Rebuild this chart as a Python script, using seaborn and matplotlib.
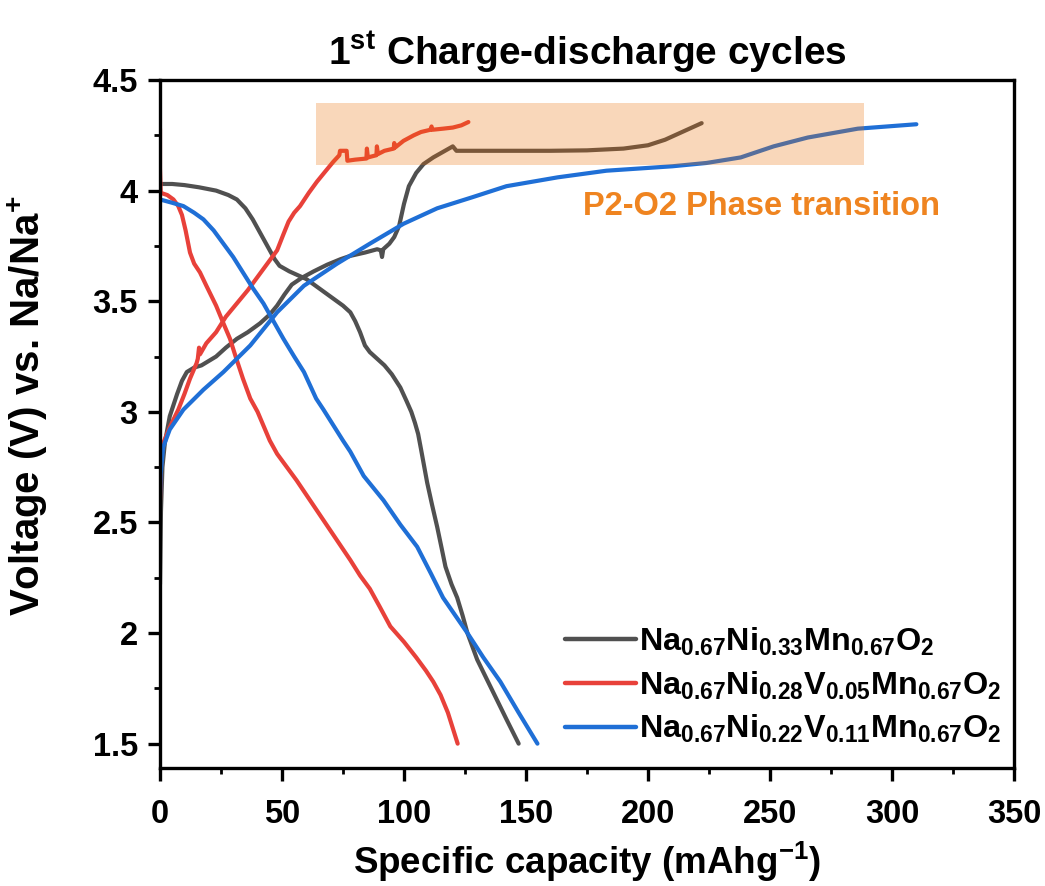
import numpy as np
import pandas as pd
import seaborn as sns
import matplotlib
matplotlib.use("Agg")
import matplotlib.pyplot as plt
from matplotlib.patches import Rectangle
from matplotlib.ticker import MultipleLocator, FuncFormatter

# ---- first-cycle galvanostatic data (capacity in mAh/g, voltage in V) ----
ni33_charge_cap = [0, 0.4, 1.0, 2, 4, 7, 9, 11, 14, 17, 20, 23, 27, 31.5, 36, 41, 45, 48, 51, 54,
                   58, 63, 68.5, 74, 78, 84, 89, 90.5, 91, 91.5, 94, 96, 98, 100, 102, 105, 108,
                   112, 116, 120, 121.5, 125, 140, 160, 175, 190, 200, 207, 213, 218, 222]
ni33_charge_v = [2.22, 2.55, 2.75, 2.86, 2.98, 3.08, 3.14, 3.18, 3.20, 3.21, 3.23, 3.25, 3.29, 3.33,
                 3.36, 3.40, 3.44, 3.48, 3.53, 3.575, 3.605, 3.635, 3.665, 3.69, 3.705, 3.72, 3.735,
                 3.73, 3.70, 3.735, 3.76, 3.79, 3.84, 3.94, 4.02, 4.08, 4.12, 4.15, 4.175, 4.20,
                 4.18, 4.18, 4.18, 4.18, 4.182, 4.19, 4.205, 4.23, 4.26, 4.285, 4.305]
ni33_dis_cap = [0, 5, 10, 16, 23, 28, 31.5, 35, 38, 41, 44, 47, 49, 53, 57, 60, 65, 70, 75, 78, 80,
                82, 84, 86, 89, 92, 95, 98.5, 101, 103, 104.5, 105.8, 107, 109.5, 111.5, 113.6, 115.5,
                117, 119.5, 121.8, 124, 126, 130, 134, 138, 142, 147]
ni33_dis_v = [4.03, 4.03, 4.025, 4.015, 4.0, 3.98, 3.96, 3.92, 3.87, 3.81, 3.75, 3.69, 3.66, 3.635,
              3.615, 3.60, 3.56, 3.52, 3.48, 3.45, 3.41, 3.36, 3.30, 3.27, 3.24, 3.21, 3.17, 3.11,
              3.05, 3.00, 2.95, 2.90, 2.83, 2.68, 2.58, 2.48, 2.38, 2.30, 2.22, 2.16, 2.08, 2.00,
              1.88, 1.79, 1.70, 1.61, 1.50]

v05_charge_cap = [0, 0.4, 1, 4, 7.5, 10, 12.3, 15, 15.5, 16, 16.4, 19, 23, 27, 31.5, 36, 40, 44, 48,
                  50.5, 52.7, 55, 57.4, 61, 64.3, 68, 71, 73.5, 73.8, 76.5, 76.8, 80, 84.6, 84.8,
                  85.2, 88.7, 88.9, 89.3, 92, 95.8, 96, 96.4, 99.8, 104, 107, 110.8, 111.3, 111.6,
                  116, 120, 123.5, 126.4]
v05_charge_v = [2.60, 2.75, 2.85, 2.93, 3.01, 3.08, 3.15, 3.22, 3.24, 3.29, 3.26, 3.31, 3.36, 3.43,
                3.49, 3.55, 3.61, 3.67, 3.73, 3.80, 3.86, 3.90, 3.93, 3.99, 4.04, 4.09, 4.13, 4.16,
                4.18, 4.18, 4.135, 4.14, 4.145, 4.19, 4.15, 4.16, 4.20, 4.165, 4.18, 4.19, 4.215,
                4.195, 4.225, 4.25, 4.265, 4.275, 4.29, 4.275, 4.28, 4.285, 4.295, 4.31]
v05_dis_cap = [0, 0, 0.3, 3, 5.5, 7.5, 9, 10.5, 12.3, 14, 16.4, 19, 23, 26, 28.7, 31, 34, 37, 40,
               45, 48, 52, 56, 61.5, 67, 72.5, 78, 82, 86, 90, 94.4, 100, 105, 109, 112, 115, 118,
               120, 122]
v05_dis_v = [4.28, 4.10, 3.99, 3.98, 3.96, 3.93, 3.89, 3.82, 3.72, 3.67, 3.63, 3.57, 3.48, 3.40,
             3.33, 3.25, 3.15, 3.06, 3.00, 2.87, 2.81, 2.75, 2.69, 2.60, 2.51, 2.42, 2.33, 2.26,
             2.20, 2.12, 2.03, 1.96, 1.89, 1.83, 1.78, 1.72, 1.64, 1.57, 1.50]

v11_charge_cap = [0, 0.3, 1.3, 4, 9.6, 17.8, 26, 37, 48, 59, 72.6, 86, 99.8, 113.6, 128, 142, 163,
                  183, 210, 224, 238, 251.5, 265.5, 286, 310]
v11_charge_v = [2.62, 2.72, 2.84, 2.92, 3.01, 3.10, 3.18, 3.30, 3.45, 3.57, 3.67, 3.76, 3.85, 3.92,
                3.97, 4.02, 4.06, 4.09, 4.11, 4.125, 4.15, 4.20, 4.24, 4.28, 4.30]
v11_dis_cap = [0, 5, 9.6, 14, 17.8, 22, 26, 30, 34, 38, 42.4, 46.5, 50.6, 55, 59, 64, 67, 71, 75,
               78, 83.5, 91.6, 98.5, 105.4, 111, 116, 121, 126, 132.5, 139.5, 147, 154.7]
v11_dis_v = [3.96, 3.945, 3.93, 3.90, 3.87, 3.82, 3.76, 3.70, 3.63, 3.56, 3.49, 3.41, 3.33, 3.25,
             3.18, 3.06, 3.01, 2.94, 2.87, 2.82, 2.71, 2.60, 2.49, 2.39, 2.27, 2.16, 2.08, 2.00,
             1.89, 1.78, 1.64, 1.50]

samples = [
    r"Na$_{0.67}$Ni$_{0.33}$Mn$_{0.67}$O$_{2}$",
    r"Na$_{0.67}$Ni$_{0.28}$V$_{0.05}$Mn$_{0.67}$O$_{2}$",
    r"Na$_{0.67}$Ni$_{0.22}$V$_{0.11}$Mn$_{0.67}$O$_{2}$",
]
colors = ["#505050", "#E8413A", "#1F6FD6"]

# ---- long-form table for seaborn ----
frames = []
for name, (cc, cv, dc, dv) in zip(samples, [
        (ni33_charge_cap, ni33_charge_v, ni33_dis_cap, ni33_dis_v),
        (v05_charge_cap, v05_charge_v, v05_dis_cap, v05_dis_v),
        (v11_charge_cap, v11_charge_v, v11_dis_cap, v11_dis_v)]):
    frames.append(pd.DataFrame({"capacity": cc, "voltage": cv, "sample": name, "step": "charge"}))
    frames.append(pd.DataFrame({"capacity": dc, "voltage": dv, "sample": name, "step": "discharge"}))
df = pd.concat(frames, ignore_index=True)

# ---- styling ----
sns.set_theme(style="ticks")
plt.rcParams["font.family"] = ["Liberation Sans", "DejaVu Sans"]
plt.rcParams["font.weight"] = "bold"
plt.rcParams["text.color"] = "black"
plt.rcParams["axes.labelcolor"] = "black"
plt.rcParams["xtick.color"] = "black"
plt.rcParams["ytick.color"] = "black"
plt.rcParams["mathtext.fontset"] = "custom"
plt.rcParams["mathtext.rm"] = "Liberation Sans:bold"
plt.rcParams["mathtext.it"] = "Liberation Sans:bold"
plt.rcParams["mathtext.bf"] = "Liberation Sans:bold"
plt.rcParams["mathtext.default"] = "rm"

fig = plt.figure(figsize=(10.45, 8.86), dpi=100)
ax = fig.add_axes([0.1531, 0.1332, 0.8172, 0.7765])

sns.lineplot(data=df, x="capacity", y="voltage", hue="sample", units="step",
             estimator=None, sort=False, palette=dict(zip(samples, colors)),
             linewidth=3.0, ax=ax)

# shaded P2-O2 region (drawn over the curves, semi-transparent)
ax.add_patch(Rectangle((64, 4.115), 224.5, 0.28, facecolor="#EC6D00", alpha=0.27,
                       edgecolor="none", zorder=5))
ax.text(173.5, 3.93, "P2-O2 Phase transition", color="#EF8420", fontsize=23.5,
        fontweight="bold", ha="left", va="center", zorder=6)

ax.set_xlim(0, 350)
ax.set_ylim(1.39, 4.5)
ax.xaxis.set_major_locator(MultipleLocator(50))
ax.xaxis.set_minor_locator(MultipleLocator(25))
ax.yaxis.set_major_locator(MultipleLocator(0.5))
ax.yaxis.set_minor_locator(MultipleLocator(0.25))
ax.yaxis.set_major_formatter(FuncFormatter(lambda v, p: f"{v:g}"))

for s in ax.spines.values():
    s.set_linewidth(2.4)
    s.set_color("black")
ax.tick_params(which="major", length=9, width=2.4, direction="out", labelsize=23.5)
ax.tick_params(axis="x", which="major", pad=13)
ax.tick_params(axis="y", which="major", pad=7)
ax.tick_params(which="minor", length=4.5, width=2.0, direction="out")
for lab in ax.get_xticklabels() + ax.get_yticklabels():
    lab.set_fontweight("bold")

ax.set_xlabel(r"Specific capacity (mAhg$^{-1}$)", fontsize=26.5, fontweight="bold")
ax.set_ylabel(r"Voltage (V) vs. Na/Na$^{+}$", fontsize=29, fontweight="bold")
ax.xaxis.set_label_coords(0.5, -0.105)
ax.yaxis.set_label_coords(-0.129, 0.526)
ax.set_title(r"1$^{\mathrm{st}}$ Charge-discharge cycles", fontsize=28, fontweight="bold", pad=11)

leg = ax.legend(loc="lower right", bbox_to_anchor=(1.012, 0.0), frameon=False, fontsize=23.3,
                handlelength=2.2, handletextpad=0.1, labelspacing=0.36, borderpad=0.2)
for line in leg.get_lines():
    line.set_linewidth(3.2)

fig.savefig("out.png", dpi=100)
